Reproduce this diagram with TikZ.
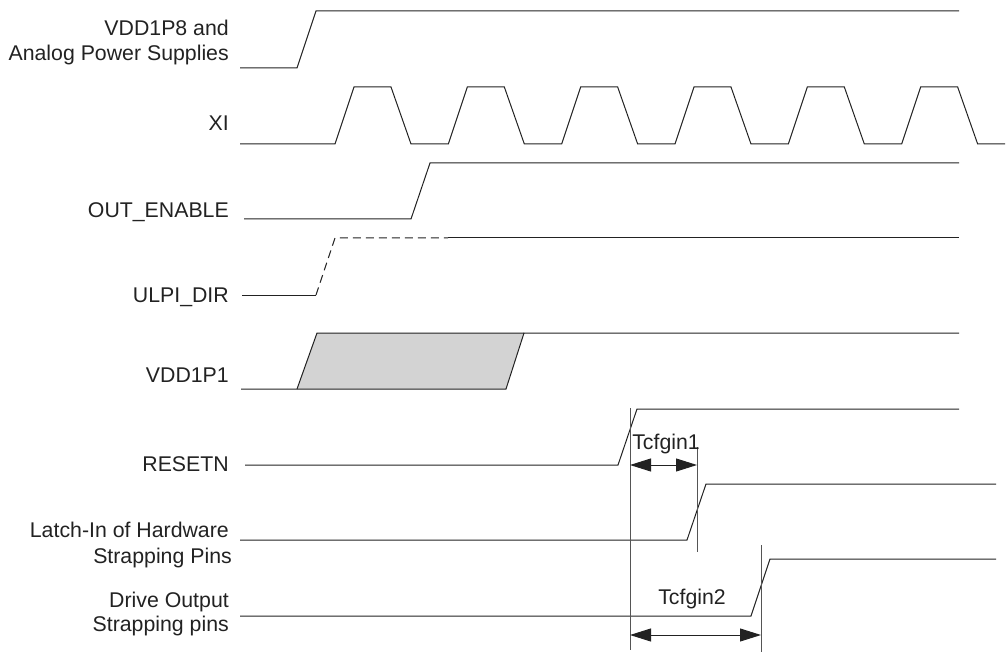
\documentclass[tikz,border=0pt]{standalone}
\usepackage{fontspec}
\setmainfont{Liberation Sans}
\usetikzlibrary{arrows.meta}
\definecolor{ink}{HTML}{222222}
\definecolor{guide}{HTML}{555555}
\definecolor{boxgray}{HTML}{D3D3D3}
\begin{document}
\begin{tikzpicture}[x=1pt,y=-1pt,
  lbl/.style={anchor=base east,inner sep=0pt,text=ink,font=\fontsize{21.3}{25}\selectfont},
  tlbl/.style={anchor=base,inner sep=0pt,text=ink,font=\fontsize{21.3}{25}\selectfont},
  wave/.style={draw=ink,line width=1pt,line join=miter},
  guideline/.style={draw=guide,line width=1pt},
  dim/.style={draw=ink,line width=1pt,{Triangle[length=21pt,width=13pt]}-{Triangle[length=21pt,width=13pt]}}]
\useasboundingbox (0,0) rectangle (1006,652);

% labels
\node[lbl] (l1a) at (229,36) {VDD1P8 and};
\node[lbl] (l1b) at (229,61) {Analog Power Supplies};
\node[lbl] (l2) at (229,131) {XI};
\node[lbl] (l3) at (229,218) {OUT\_ENABLE};
\node[lbl] (l4) at (229,302) {ULPI\_DIR};
\node[lbl] (l5) at (229,382) {VDD1P1};
\node[lbl] (l6) at (229,471) {RESETN};
\node[lbl] (l7a) at (229,537) {Latch-In of Hardware};
\node[lbl] (l7b) at (232,563) {Strapping Pins};
\node[lbl] (l8a) at (229,607) {Drive Output};
\node[lbl] (l8b) at (229,631) {Strapping pins};

% VDD1P8
\draw[wave] (240,68) -- (297,68) -- (316,11) -- (959,11);

% XI
\draw[wave] (240,144) -- (335,144)
  \foreach \k in {0,...,5} { -- ({335+113.33*\k},144) -- ({354+113.33*\k},87) -- ({391+113.33*\k},87) -- ({411+113.33*\k},144) }
  -- (1005,144);

% OUT_ENABLE
\draw[wave] (244,219) -- (411,219) -- (430,163) -- (959,163);

% ULPI_DIR
\draw[wave] (242,295) -- (316,295);
\draw[wave,dash pattern=on 8pt off 5pt] (316,295) -- (335,238) -- (448,238);
\draw[wave] (448,238) -- (959,238);

% VDD1P1
\fill[boxgray] (297,389) -- (317,333) -- (524,333) -- (506,389) -- cycle;
\draw[wave] (241,389) -- (506,389) -- (524,333) -- (959,333);
\draw[wave] (297,389) -- (317,333) -- (524,333);

% RESETN
\draw[wave] (245,465) -- (618,465) -- (637,409) -- (959,409);

% Latch-In
\draw[wave] (240,540) -- (687,540) -- (706,484) -- (996,484);

% Drive Output
\draw[wave] (240,616) -- (751,616) -- (770,559) -- (996,559);

% guides
\coordinate (g1t) at (630,408);
\coordinate (g1b) at (630,650);
\coordinate (g2t) at (697,447);
\coordinate (g2b) at (697,552);
\coordinate (g3t) at (761,545);
\coordinate (g3b) at (761,652);
\draw[guideline] (g1t) -- (g1b);
\draw[guideline] (g2t) -- (g2b);
\draw[guideline] (g3t) -- (g3b);

% dimensions
\coordinate (d1a) at (630,465);
\coordinate (d1b) at (697,465);
\coordinate (d2a) at (630,635);
\coordinate (d2b) at (761,635);
\draw[dim] (d1a) -- (d1b);
\draw[dim] (d2a) -- (d2b);
\node[tlbl] (t1) at (666,449) {Tcfgin1};
\node[tlbl] (t2) at (692,604) {Tcfgin2};
\end{tikzpicture}
\end{document}
